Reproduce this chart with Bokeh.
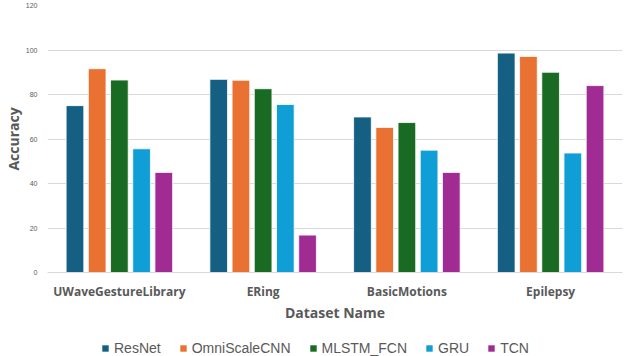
from bokeh.plotting import figure
from bokeh.layouts import column
from bokeh.models import ColumnDataSource, FactorRange, Range1d, Legend, LegendItem, SingleIntervalTicker
from bokeh.transform import dodge
from bokeh.embed import file_html
from bokeh.resources import INLINE

datasets = ["UWaveGestureLibrary", "ERing", "BasicMotions", "Epilepsy"]
models = ["ResNet", "OmniScaleCNN", "MLSTM_FCN", "GRU", "TCN"]
resnet = [75.0, 86.8, 69.9, 98.6]
omniscalecnn = [91.6, 86.4, 65.2, 97.1]
mlstm_fcn = [86.5, 82.6, 67.4, 90.0]
gru = [55.6, 75.5, 55.0, 53.7]
tcn = [45.0, 16.8, 45.0, 84.0]

colors = ["#156082", "#E97132", "#196B24", "#0F9ED5", "#A02B93"]

source = ColumnDataSource(data=dict(
    ds=datasets, s0=resnet, s1=omniscalecnn, s2=mlstm_fcn, s3=gru, s4=tcn))

p = figure(x_range=FactorRange(factors=datasets), y_range=Range1d(0, 120),
           width=624, height=332, output_backend="svg", toolbar_location=None,
           min_border_top=5, min_border_right=2, min_border_left=30, min_border_bottom=60)

step = 0.1545
for i, c in enumerate(colors):
    p.vbar(x=dodge("ds", (i - 2) * step, range=p.x_range), top="s%d" % i, width=0.123,
           source=source, fill_color=c, line_color="white", line_width=0.8)

p.outline_line_color = None
p.xgrid.grid_line_color = None
p.ygrid.grid_line_color = "#d9d9d9"
p.ygrid.grid_line_width = 1

p.yaxis.ticker = SingleIntervalTicker(interval=20)
p.yaxis.axis_line_color = None
p.yaxis.major_tick_line_color = None
p.yaxis.minor_tick_line_color = None
p.yaxis.major_tick_out = 0
p.yaxis.major_tick_in = 0
p.yaxis.major_label_text_font = "Liberation Sans"
p.yaxis.major_label_text_font_size = "7px"
p.yaxis.major_label_text_color = "#595959"
p.yaxis.major_label_standoff = 6
p.yaxis.axis_label = "Accuracy"
p.yaxis.axis_label_text_font = "Open Sans"
p.yaxis.axis_label_text_font_style = "bold"
p.yaxis.axis_label_text_font_size = "14px"
p.yaxis.axis_label_text_color = "#595959"
p.yaxis.axis_label_standoff = 0

p.xaxis.axis_line_color = "#d9d9d9"
p.xaxis.major_tick_line_color = None
p.xaxis.minor_tick_line_color = None
p.xaxis.major_tick_out = 0
p.xaxis.major_tick_in = 0
p.xaxis.major_label_text_font = "Open Sans"
p.xaxis.major_label_text_font_style = "bold"
p.xaxis.major_label_text_font_size = "12px"
p.xaxis.major_label_text_color = "#595959"
p.xaxis.major_label_standoff = 10
p.xaxis.axis_label = "Dataset Name"
p.xaxis.axis_label_text_font = "Open Sans"
p.xaxis.axis_label_text_font_style = "bold"
p.xaxis.axis_label_text_font_size = "14px"
p.xaxis.axis_label_text_color = "#595959"
p.xaxis.axis_label_standoff = 0

# legend strip
lg = figure(width=624, height=24, output_backend="svg", toolbar_location=None,
            x_range=Range1d(0, 1), y_range=Range1d(0, 1),
            x_axis_location=None, y_axis_location=None,
            min_border_top=0, min_border_bottom=0, min_border_left=0, min_border_right=0)
lg.outline_line_color = None
lg.grid.visible = False
items = []
for m, c in zip(models, colors):
    r = lg.vbar(x=[0.5], top=[0], bottom=[0], width=0.01, fill_color=c, line_alpha=0)
    items.append(LegendItem(label=m, renderers=[r]))
legend = Legend(items=items, orientation="horizontal", location=(54, 0))
legend.border_line_color = None
legend.background_fill_alpha = 0
legend.margin = 0
legend.padding = 0
legend.spacing = 18
legend.glyph_width = 8
legend.glyph_height = 8
legend.label_standoff = 5
legend.label_text_font = "Liberation Sans"
legend.label_text_font_size = "14px"
legend.label_text_color = "#595959"
legend.label_height = 14
lg.add_layout(legend)

layout = column(p, lg, spacing=0)
open("out.html", "w").write(file_html(layout, INLINE))
